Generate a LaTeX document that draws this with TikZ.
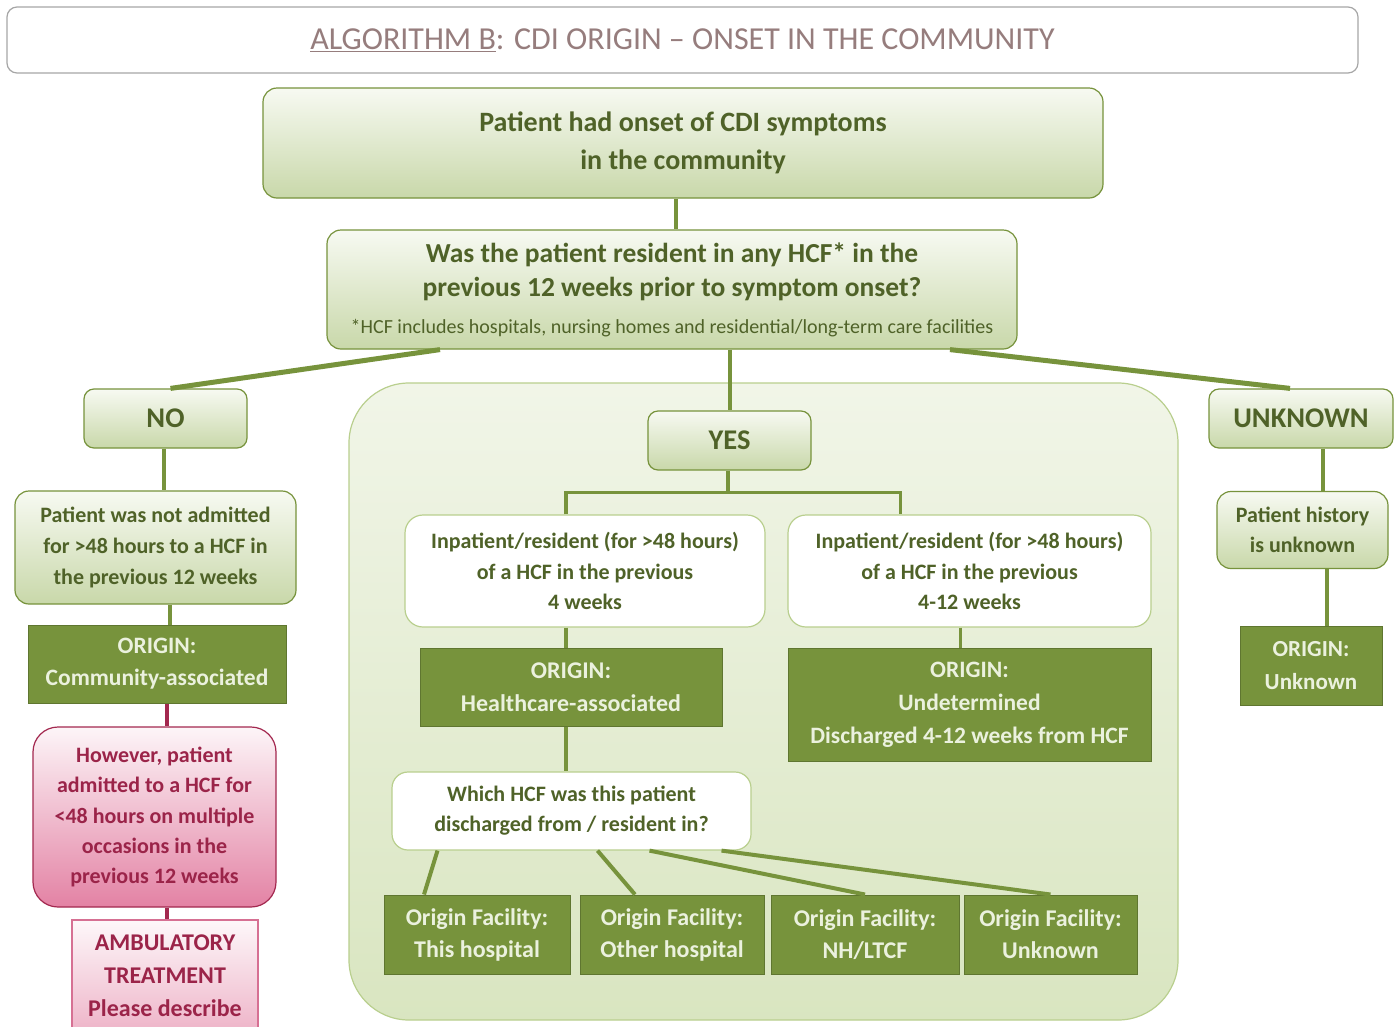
\documentclass[tikz,border=0pt]{standalone}
\usepackage{fontspec}
\setmainfont{Carlito}
\usepackage{tikz}
\usetikzlibrary{calc,shapes,positioning,backgrounds}

\definecolor{olivegreen}{HTML}{77933C}
\definecolor{darkolive}{HTML}{4F6228}
\definecolor{palegreen}{HTML}{D7E4BD}
\definecolor{lightfill}{HTML}{EBF1DE}
\definecolor{paleline}{HTML}{B9CF8E}
\definecolor{titlegray}{HTML}{967D7D}
\definecolor{crimson}{HTML}{9B2449}
\definecolor{rosy}{HTML}{E382A4}
\definecolor{redline}{HTML}{A3284F}

\newcommand{\fsz}[2]{\fontsize{#1}{#2}\selectfont}

\begin{document}
\begin{tikzpicture}[x=1pt,y=-1pt,
	lightbox/.style={draw=olivegreen, line width=1.2pt, rounded corners=14pt,
		top color=white!80!palegreen, bottom color=palegreen!85!olivegreen,
		text=darkolive, align=center, inner sep=0pt},
	whitebox/.style={draw=paleline, line width=1.2pt, rounded corners=18pt,
		fill=white, text=darkolive, align=center, inner sep=0pt},
	darkbox/.style={draw=olivegreen!80!black, line width=1pt, fill=olivegreen,
		text=lightfill, align=center, inner sep=0pt},
	pinkbox/.style={draw=redline, line width=1.2pt, rounded corners=25pt,
		top color=white!92!rosy, bottom color=rosy, text=crimson, align=center, inner sep=0pt},
	link/.style={draw=olivegreen, line width=4pt},
	redlink/.style={draw=redline, line width=4pt}]
	
	\useasboundingbox (0,0) rectangle (1400,1026);
	\clip (0,0) rectangle (1400,1026);
	\fill[white] (0,0) rectangle (1400,1026);
	
	% title
	\node[draw=gray!70, line width=1.2pt, rounded corners=10pt, fill=white,
		minimum width=1351pt, minimum height=66pt, text=titlegray,
		font=\fsz{32}{36}] (title) at (682.5,40)
		{\underline{ALGORITHM B}: CDI ORIGIN -- ONSET IN THE COMMUNITY};
	
	% background of the YES branch
	\node[draw=paleline, line width=1.2pt, rounded corners=60pt,
		top color=lightfill!70!white, bottom color=palegreen!90!lightfill,
		minimum width=829pt, minimum height=637pt] (yesarea) at (763.5,701.5) {};
	
	% top
	\node[lightbox, minimum width=840pt, minimum height=110pt, font=\bfseries\fsz{28}{38}]
		(onset) at (683,143) {Patient had onset of CDI symptoms\\in the community};
	\node[lightbox, minimum width=690pt, minimum height=119pt, font=\bfseries\fsz{27.5}{34}]
		(question) at (672,289.5) {Was the patient resident in any HCF* in the\\
		previous 12 weeks prior to symptom onset?\\[3pt]
		{\mdseries\fsz{20}{22}*HCF includes hospitals, nursing homes and residential/long-term care facilities}};
	
	% NO branch
	\node[lightbox, rounded corners=10pt, minimum width=163pt, minimum height=59pt,
		font=\bfseries\fsz{28.5}{30}] (no) at (165.5,418.5) {NO};
	\node[lightbox, minimum width=281pt, minimum height=113pt, font=\bfseries\fsz{22}{31}]
		(notadm) at (155.5,547.5) {Patient was not admitted\\for >48 hours to a HCF in\\the previous 12 weeks};
	\node[darkbox, minimum width=258pt, minimum height=78pt, font=\bfseries\fsz{23.5}{32}]
		(community) at (157,664) {ORIGIN:\\Community-associated};
	\node[pinkbox, minimum width=243pt, minimum height=180pt, font=\bfseries\fsz{22}{30.2}]
		(however) at (154.5,817) {However, patient\\admitted to a HCF for\\<48 hours on multiple\\occasions in the\\previous 12 weeks};
	\node[pinkbox, rounded corners=0pt, draw=rosy!80!redline, top color=white!94!rosy,
		bottom color=rosy!60!white, minimum width=186pt, minimum height=112pt,
		font=\bfseries\fsz{24}{33}] (ambul) at (165,976) {AMBULATORY\\TREATMENT\\Please describe};
	
	% YES branch
	\node[lightbox, rounded corners=10pt, minimum width=163pt, minimum height=59pt,
		font=\bfseries\fsz{28.5}{30}] (yes) at (729.5,440.5) {YES};
	\node[whitebox, minimum width=360pt, minimum height=112pt, font=\bfseries\fsz{22}{30.5}]
		(inp4) at (585,571) {Inpatient/resident (for >48 hours)\\of a HCF in the previous\\4 weeks};
	\node[whitebox, minimum width=363pt, minimum height=112pt, font=\bfseries\fsz{22}{30.5}]
		(inp12) at (969.5,571) {Inpatient/resident (for >48 hours)\\of a HCF in the previous\\4-12 weeks};
	\node[darkbox, minimum width=302pt, minimum height=78pt, font=\bfseries\fsz{24}{33}]
		(hca) at (571,687) {ORIGIN:\\Healthcare-associated};
	\node[darkbox, minimum width=363pt, minimum height=113pt, font=\bfseries\fsz{23.5}{33}]
		(undet) at (969.5,704.5) {ORIGIN:\\Undetermined\\Discharged 4-12 weeks from HCF};
	\node[whitebox, rounded corners=16pt, minimum width=359pt, minimum height=78pt,
		font=\bfseries\fsz{22}{30}] (which) at (571.5,811)
		{Which HCF was this patient\\discharged from / resident in?};
	\node[darkbox, minimum width=186pt, minimum height=79pt, font=\bfseries\fsz{24}{32}]
		(fac1) at (477,934.5) {Origin Facility:\\This hospital};
	\node[darkbox, minimum width=184pt, minimum height=79pt, font=\bfseries\fsz{24}{32}]
		(fac2) at (672,934.5) {Origin Facility:\\Other hospital};
	\node[darkbox, minimum width=188pt, minimum height=79pt, font=\bfseries\fsz{24}{32}]
		(fac3) at (865,934.5) {Origin Facility:\\NH/LTCF};
	\node[darkbox, minimum width=173pt, minimum height=79pt, font=\bfseries\fsz{24}{32}]
		(fac4) at (1050.5,934.5) {Origin Facility:\\Unknown};
	
	% UNKNOWN branch
	\node[lightbox, rounded corners=10pt, minimum width=184pt, minimum height=59pt,
		font=\bfseries\fsz{28.5}{30}] (unknown) at (1301,418.5) {UNKNOWN};
	\node[lightbox, minimum width=171pt, minimum height=77pt, font=\bfseries\fsz{22}{30}]
		(history) at (1302.5,530) {Patient history\\is unknown};
	\node[darkbox, minimum width=142pt, minimum height=79pt, font=\bfseries\fsz{23}{33}]
		(orunk) at (1311,665.5) {ORIGIN:\\Unknown};
	
	% connectors
	\draw[link] ($(onset.south)+(-7,0)$) -- ($(onset.south |- question.north)+(-7,0)$);
	\draw[link, line width=5pt] ($(question.south)+(-232,0)$) -- ($(no.north)+(5,0)$);
	\draw[link] (yes.north |- question.south) -- (yes.north);
	\draw[link, line width=5pt] ($(question.south)+(278,0)$) -- ($(unknown.north)+(-11,0)$);
	
	\draw[link] ($(no.south)+(-2,0)$) -- ($(no.south |- notadm.north)+(-2,0)$);
	\draw[link] ($(notadm.south)+(14,0)$) -- ($(notadm.south |- community.north)+(14,0)$);
	\draw[redlink] ($(community.south)+(10,0)$) -- ($(community.south |- however.north)+(10,0)$);
	\draw[redlink] ($(however.south)+(12,0)$) -- ($(however.south |- ambul.north)+(12,0)$);
	
	\coordinate (split) at ($(yes.south)+(-2,22)$);
	\draw[link] (yes.south -| split) -- (split);
	\draw[link, line width=3.5pt] ($(inp4.north)+(-19,0)$) |- (split) -| ($(inp12.north)+(-69,0)$);
	\draw[link, line width=3.5pt] ($(inp4.south)+(-19,0)$) -- ($(inp4.south |- hca.north)+(-19,0)$);
	\draw[link, line width=3.5pt] ($(inp12.south)+(-9,0)$) -- ($(inp12.south |- undet.north)+(-9,0)$);
	\draw[link, line width=3.5pt] ($(hca.south)+(-5,0)$) -- ($(hca.south |- which.north)+(-5,0)$);
	
	\draw[link] ($(which.south)+(-134,0)$) -- ($(fac1.north)+(-53,0)$);
	\draw[link] ($(which.south)+(26,0)$) -- ($(fac2.north)+(-37,0)$);
	\draw[link] ($(which.south)+(78,0)$) -- (fac3.north);
	\draw[link] ($(which.south)+(150,0)$) -- (fac4.north);
	
	\draw[link] ($(unknown.south)+(22,0)$) -- ($(unknown.south |- history.north)+(22,0)$);
	\draw[link] ($(history.south)+(24,0)$) -- ($(history.south |- orunk.north)+(24,0)$);
	
\end{tikzpicture}
\end{document}
